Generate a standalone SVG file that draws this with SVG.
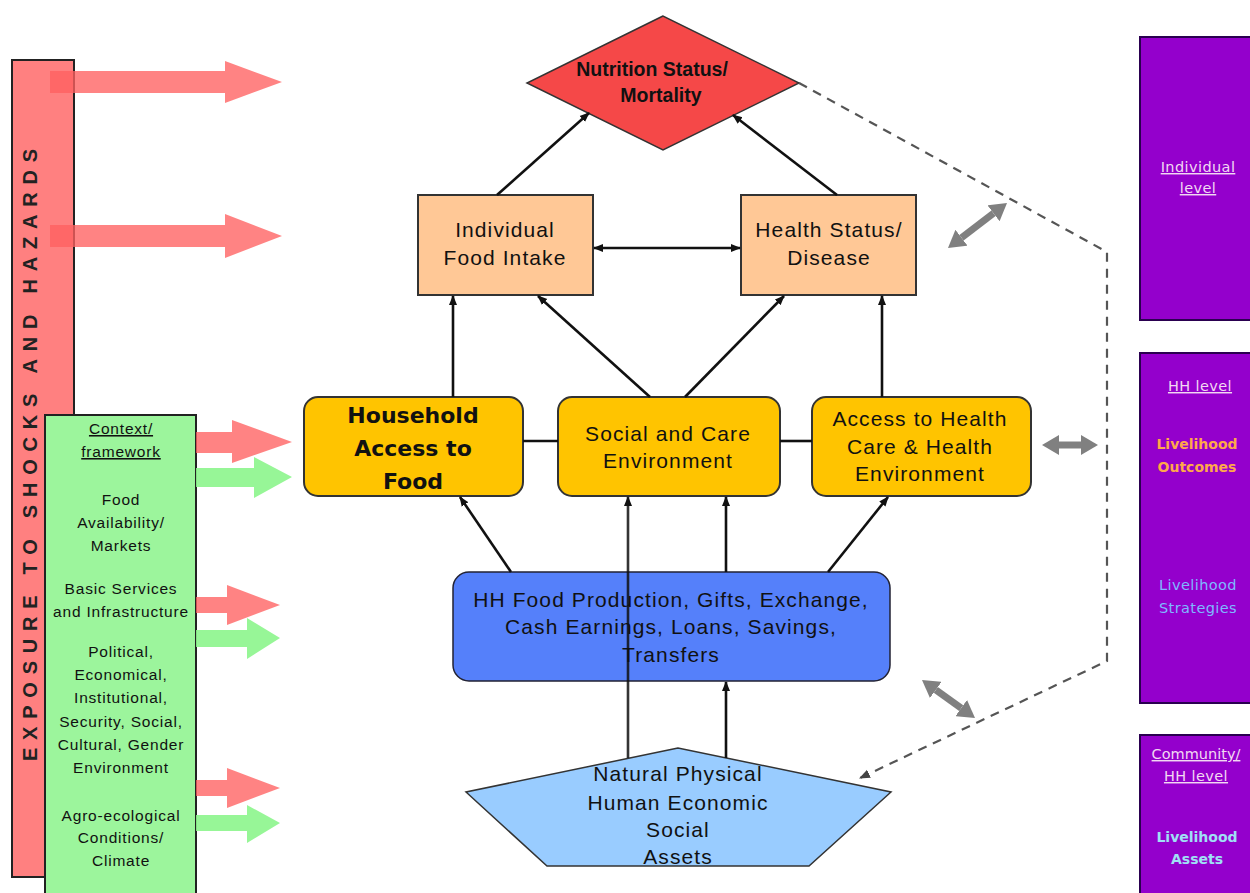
<svg xmlns="http://www.w3.org/2000/svg" width="1250" height="893" viewBox="0 0 1250 893">
<defs>
<style>
.t{font-family:"Liberation Sans",Arial,sans-serif;fill:#111;text-anchor:middle}
.c{font-size:21px;letter-spacing:1.1px}
.g{font-size:15.5px;letter-spacing:0.8px}
.p{font-family:"DejaVu Sans",Verdana,sans-serif;font-size:14.5px;text-anchor:middle;letter-spacing:0.4px}
.pb{font-size:14px;letter-spacing:0;font-weight:bold}
.u{text-decoration:underline}
.ln{stroke:#111;stroke-width:2.6;fill:none}
.gy{stroke:#808080;stroke-width:7;fill:none}
.ra{fill:#FF6060;fill-opacity:0.78}
.ga{fill:#8CF58C;fill-opacity:0.9}
.pu{fill:#9400CC;stroke:#2a0050;stroke-width:2}
.hb{font-family:"DejaVu Sans",Verdana,sans-serif;font-weight:bold;font-size:22px}
.nb{font-weight:bold;font-size:19.5px}
</style>
<marker id="ah" viewBox="0 0 10 10" refX="9" refY="5" markerWidth="10" markerHeight="10" markerUnits="userSpaceOnUse" orient="auto-start-reverse">
<path d="M0,1 L10,5 L0,9 z" fill="#111"/>
</marker>
<marker id="dh" viewBox="0 0 10 10" refX="9" refY="5" markerWidth="11" markerHeight="11" markerUnits="userSpaceOnUse" orient="auto">
<path d="M0,1 L10,5 L0,9 z" fill="#444"/>
</marker>
<marker id="gh" viewBox="0 0 10 10" refX="0" refY="5" markerWidth="17" markerHeight="20" markerUnits="userSpaceOnUse" orient="auto-start-reverse" preserveAspectRatio="none">
<path d="M0,0 L10,5 L0,10 z" fill="#808080"/>
</marker>
</defs>
<rect width="1250" height="893" fill="#fff"/>

<g id="exposure">
<rect x="12" y="60" width="62" height="817" fill="#FF8080" stroke="#222" stroke-width="2"/>
<text transform="translate(37,455) rotate(-90)" style="font-family:'Liberation Sans',Arial,sans-serif;font-weight:bold;font-size:20px;fill:#222" text-anchor="middle" textLength="612" lengthAdjust="spacing">EXPOSURE TO SHOCKS AND HAZARDS</text>
</g>

<g id="shock-arrows-top">
<polygon class="ra" points="50,71 225,71 225,61 282,82 225,103 225,93 50,93"/>
<polygon class="ra" points="50,225 225,225 225,214 282,236 225,258 225,247 50,247"/>
</g>

<g id="context">
<rect x="45" y="415" width="151" height="490" fill="#9CF59C" stroke="#222" stroke-width="2"/>
<text class="t g u" x="121" y="434">Context/</text>
<text class="t g u" x="121" y="457">framework</text>
<text class="t g" x="121" y="505">Food</text>
<text class="t g" x="121" y="528">Availability/</text>
<text class="t g" x="121" y="551">Markets</text>
<text class="t g" x="121" y="594">Basic Services</text>
<text class="t g" x="121" y="617">and Infrastructure</text>
<text class="t g" x="121" y="657">Political,</text>
<text class="t g" x="121" y="680">Economical,</text>
<text class="t g" x="121" y="703">Institutional,</text>
<text class="t g" x="121" y="727">Security, Social,</text>
<text class="t g" x="121" y="750">Cultural, Gender</text>
<text class="t g" x="121" y="773">Environment</text>
<text class="t g" x="121" y="821">Agro-ecological</text>
<text class="t g" x="121" y="843">Conditions/</text>
<text class="t g" x="121" y="866">Climate</text>
</g>

<g id="context-arrows">
<polygon class="ra" points="196,432 232,432 232,420 292,442 232,463 232,453 196,453"/>
<polygon class="ga" points="196,468 254,468 254,457 292,477 254,498 254,487 196,487"/>
<polygon class="ra" points="196,597 227,597 227,585 280,605 227,625 227,613 196,613"/>
<polygon class="ga" points="196,630 247,630 247,618 280,638 247,659 247,647 196,647"/>
<polygon class="ra" points="196,780 227,780 227,768 280,788 227,808 227,796 196,796"/>
<polygon class="ga" points="196,815 247,815 247,805 280,823 247,843 247,831 196,831"/>
</g>

<g id="nutrition">
<polygon points="663,16 527,83 663,150 799,83" fill="#F54848" stroke="#333" stroke-width="1.5"/>
<text class="t nb" x="652" y="76">Nutrition Status/</text>
<text class="t nb" x="661" y="102">Mortality</text>
</g>

<g id="food-intake">
<rect x="418" y="195" width="175" height="100" fill="#FFC896" stroke="#333" stroke-width="2"/>
<text class="t c" x="505" y="237">Individual</text>
<text class="t c" x="505" y="265">Food Intake</text>
</g>

<g id="health-status">
<rect x="741" y="195" width="175" height="100" fill="#FFC896" stroke="#333" stroke-width="2"/>
<text class="t c" x="829" y="237">Health Status/</text>
<text class="t c" x="829" y="265">Disease</text>
</g>

<g id="hh-access">
<rect x="304" y="397" width="219" height="99" rx="14" fill="#FFC400" stroke="#333" stroke-width="2"/>
<text class="t hb" x="413" y="423">Household</text>
<text class="t hb" x="413" y="456">Access to</text>
<text class="t hb" x="413" y="489">Food</text>
</g>

<g id="social-care">
<rect x="558" y="397" width="222" height="99" rx="14" fill="#FFC400" stroke="#333" stroke-width="2"/>
<text class="t c" x="668" y="441">Social and Care</text>
<text class="t c" x="668" y="468">Environment</text>
</g>

<g id="health-access">
<rect x="812" y="397" width="219" height="99" rx="14" fill="#FFC400" stroke="#333" stroke-width="2"/>
<text class="t c" x="920" y="426">Access to Health</text>
<text class="t c" x="920" y="454">Care &amp; Health</text>
<text class="t c" x="920" y="481">Environment</text>
</g>

<g id="hh-food-production">
<rect x="453" y="572" width="437" height="109" rx="16" fill="#5580FA" stroke="#223" stroke-width="1.5"/>
<text class="t c" x="671" y="607">HH Food Production, Gifts, Exchange,</text>
<text class="t c" x="671" y="634">Cash Earnings, Loans, Savings,</text>
<text class="t c" x="671" y="662">Transfers</text>
</g>

<g id="assets">
<polygon points="678,748 466,792 547,866 809,866 891,792" fill="#99CCFF" stroke="#333" stroke-width="1.5"/>
<text class="t c" x="678" y="781">Natural Physical</text>
<text class="t c" x="678" y="810">Human Economic</text>
<text class="t c" x="678" y="837">Social</text>
<text class="t c" x="678" y="864">Assets</text>
</g>

<g id="connectors">
<line class="ln" x1="497" y1="195" x2="589" y2="113" marker-end="url(#ah)"/>
<line class="ln" x1="837" y1="195" x2="733" y2="115" marker-end="url(#ah)"/>
<line class="ln" x1="594" y1="248" x2="740" y2="248" marker-start="url(#ah)" marker-end="url(#ah)"/>
<line class="ln" x1="453" y1="397" x2="453" y2="296" marker-end="url(#ah)"/>
<line class="ln" x1="650" y1="397" x2="538" y2="296" marker-end="url(#ah)"/>
<line class="ln" x1="685" y1="397" x2="784" y2="296" marker-end="url(#ah)"/>
<line class="ln" x1="882" y1="397" x2="882" y2="296" marker-end="url(#ah)"/>
<line class="ln" x1="523" y1="441" x2="558" y2="441" stroke-width="2"/>
<line class="ln" x1="780" y1="441" x2="812" y2="441" stroke-width="2"/>
<line class="ln" x1="511" y1="572" x2="460" y2="497" marker-end="url(#ah)"/>
<line class="ln" x1="828" y1="572" x2="888" y2="497" marker-end="url(#ah)"/>
<line class="ln" x1="628" y1="758" x2="628" y2="497" marker-end="url(#ah)" stroke-opacity="0.85"/>
<line class="ln" x1="726" y1="758" x2="726" y2="682" marker-end="url(#ah)"/>
<line class="ln" x1="726" y1="572" x2="726" y2="497" marker-end="url(#ah)"/>
<polyline points="799,83 1107,252 1107,661 860,778" fill="none" stroke="#555" stroke-width="2.2" stroke-dasharray="9,7" marker-end="url(#dh)"/>
<line class="gy" x1="961.5" y1="237.7" x2="993.5" y2="213.3" marker-start="url(#gh)" marker-end="url(#gh)"/>
<line class="gy" x1="1059" y1="445" x2="1081" y2="445" marker-start="url(#gh)" marker-end="url(#gh)"/>
<line class="gy" x1="935.8" y1="689.9" x2="961.2" y2="708.1" marker-start="url(#gh)" marker-end="url(#gh)"/>
</g>

<g id="individual-level">
<rect class="pu" x="1140" y="37" width="130" height="283"/>
<text class="p u" x="1198" y="172" fill="#F2D8F2">Individual</text>
<text class="p u" x="1198" y="193" fill="#F2D8F2">level</text>
</g>

<g id="hh-level">
<rect class="pu" x="1140" y="353" width="130" height="350"/>
<text class="p u" x="1200" y="391" fill="#F2D8F2">HH level</text>
<text class="p pb" x="1197" y="449" fill="#FFA84A">Livelihood</text>
<text class="p pb" x="1197" y="472" fill="#FFA84A">Outcomes</text>
<text class="p" x="1198" y="590" fill="#7FB8FF">Livelihood</text>
<text class="p" x="1198" y="613" fill="#7FB8FF">Strategies</text>
</g>

<g id="community-level">
<rect class="pu" x="1140" y="735" width="130" height="170"/>
<text class="p u" x="1196" y="759" fill="#F2D8F2" style="letter-spacing:0">Community/</text>
<text class="p u" x="1196" y="781" fill="#F2D8F2">HH level</text>
<text class="p pb" x="1197" y="842" fill="#9FE0F5">Livelihood</text>
<text class="p pb" x="1197" y="864" fill="#9FE0F5">Assets</text>
</g>
</svg>
